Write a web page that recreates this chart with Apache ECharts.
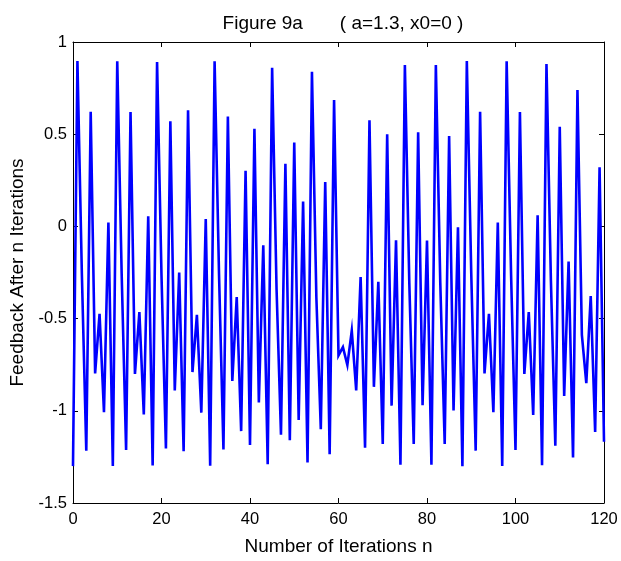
<!DOCTYPE html>
<html>
<head>
<meta charset="utf-8">
<script src="https://cdn.jsdelivr.net/npm/echarts@6/dist/echarts.min.js"></script>
<style>
  html, body { margin: 0; padding: 0; background: #fff; }
  #chart { width: 621px; height: 561px; }
</style>
</head>
<body>
<div id="chart"></div>
<script>
// Iteration index n = 0..120
const iterations = [];
for (let n = 0; n <= 120; n++) iterations.push(n);

// Feedback value after each iteration
const feedback = [
  -1.300, 0.897, -0.254, -1.216, 0.622, -0.797, -0.474, -1.008, 0.021, -1.299,
  0.895, -0.259, -1.213, 0.620, -0.800, -0.465, -1.020, 0.055, -1.296, 0.892,
  -0.266, -1.204, 0.570, -0.890, -0.250, -1.219, 0.630, -0.790, -0.480, -1.010,
  0.040, -1.298, 0.895, -0.260, -1.210, 0.596, -0.838, -0.383, -1.110, 0.302,
  -1.186, 0.530, -0.955, -0.103, -1.290, 0.860, -0.340, -1.130, 0.340, -1.160,
  0.455, -1.050, 0.135, -1.280, 0.838, -0.387, -1.100, 0.240, -1.235, 0.685,
  -0.700, -0.655, -0.752, -0.565, -0.890, -0.274, -1.200, 0.575, -0.870, -0.300,
  -1.180, 0.500, -0.972, -0.075, -1.293, 0.875, -0.305, -1.180, 0.510, -0.970,
  -0.076, -1.293, 0.875, -0.305, -1.180, 0.490, -0.998, -0.005, -1.300, 0.897,
  -0.254, -1.216, 0.622, -0.797, -0.474, -1.008, 0.021, -1.299, 0.895, -0.259,
  -1.213, 0.620, -0.800, -0.465, -1.022, 0.060, -1.295, 0.880, -0.293, -1.190,
  0.540, -0.920, -0.190, -1.253, 0.740, -0.588, -0.850, -0.378, -1.115, 0.320,
  -1.168
];

const xTicks = [0, 20, 40, 60, 80, 100, 120];
const yTicks = [-1.5, -1, -0.5, 0, 0.5, 1];

const FONT = 'Liberation Sans, Arial, sans-serif';

const points = iterations.map((n, i) => [n, feedback[i]]);

// Box frame: every axis sits on the grid edge, ticks point inward
const axisLine = { show: true, onZero: false, lineStyle: { color: '#000', width: 1 } };
const tickIn = { show: true, inside: true, length: 5, lineStyle: { color: '#000', width: 1 } };

const chart = echarts.init(document.getElementById('chart'), null, { renderer: 'canvas' });
chart.setOption({
  animation: false,
  backgroundColor: '#fff',
  title: {
    text: 'Figure 9a       ( a=1.3, x0=0 )',
    left: 338, top: 9, textAlign: 'center',
    textStyle: { fontFamily: FONT, fontSize: 19, fontWeight: 'normal', color: '#000' }
  },
  grid: { left: 73, right: 17, top: 42, bottom: 58 },
  xAxis: [
    {
      type: 'value', min: xTicks[0], max: xTicks[xTicks.length - 1], interval: 20,
      position: 'bottom',
      name: 'Number of Iterations n', nameLocation: 'middle', nameGap: 34,
      nameTextStyle: { fontFamily: FONT, fontSize: 19, color: '#000' },
      axisLine, axisTick: tickIn,
      axisLabel: { fontFamily: FONT, fontSize: 16.5, color: '#000', margin: 8 },
      splitLine: { show: false }
    },
    {
      type: 'value', min: xTicks[0], max: xTicks[xTicks.length - 1], interval: 20,
      position: 'top', axisLine, axisTick: tickIn,
      axisLabel: { show: false }, splitLine: { show: false }
    }
  ],
  yAxis: [
    {
      type: 'value', min: yTicks[0], max: yTicks[yTicks.length - 1], interval: 0.5,
      position: 'left',
      name: 'Feedback After n Iterations', nameLocation: 'middle', nameGap: 46,
      nameTextStyle: { fontFamily: FONT, fontSize: 19, color: '#000' },
      axisLine, axisTick: tickIn,
      axisLabel: { fontFamily: FONT, fontSize: 16.5, color: '#000', margin: 6 },
      splitLine: { show: false }
    },
    {
      type: 'value', min: yTicks[0], max: yTicks[yTicks.length - 1], interval: 0.5,
      position: 'right', axisLine, axisTick: tickIn,
      axisLabel: { show: false }, splitLine: { show: false }
    }
  ],
  series: [{
    type: 'line',
    xAxisIndex: 0, yAxisIndex: 0,
    data: points,
    showSymbol: false,
    lineStyle: { color: '#0000ff', width: 2.6, join: 'miter' },
    itemStyle: { color: '#0000ff' }
  }]
});
</script>
</body>
</html>
